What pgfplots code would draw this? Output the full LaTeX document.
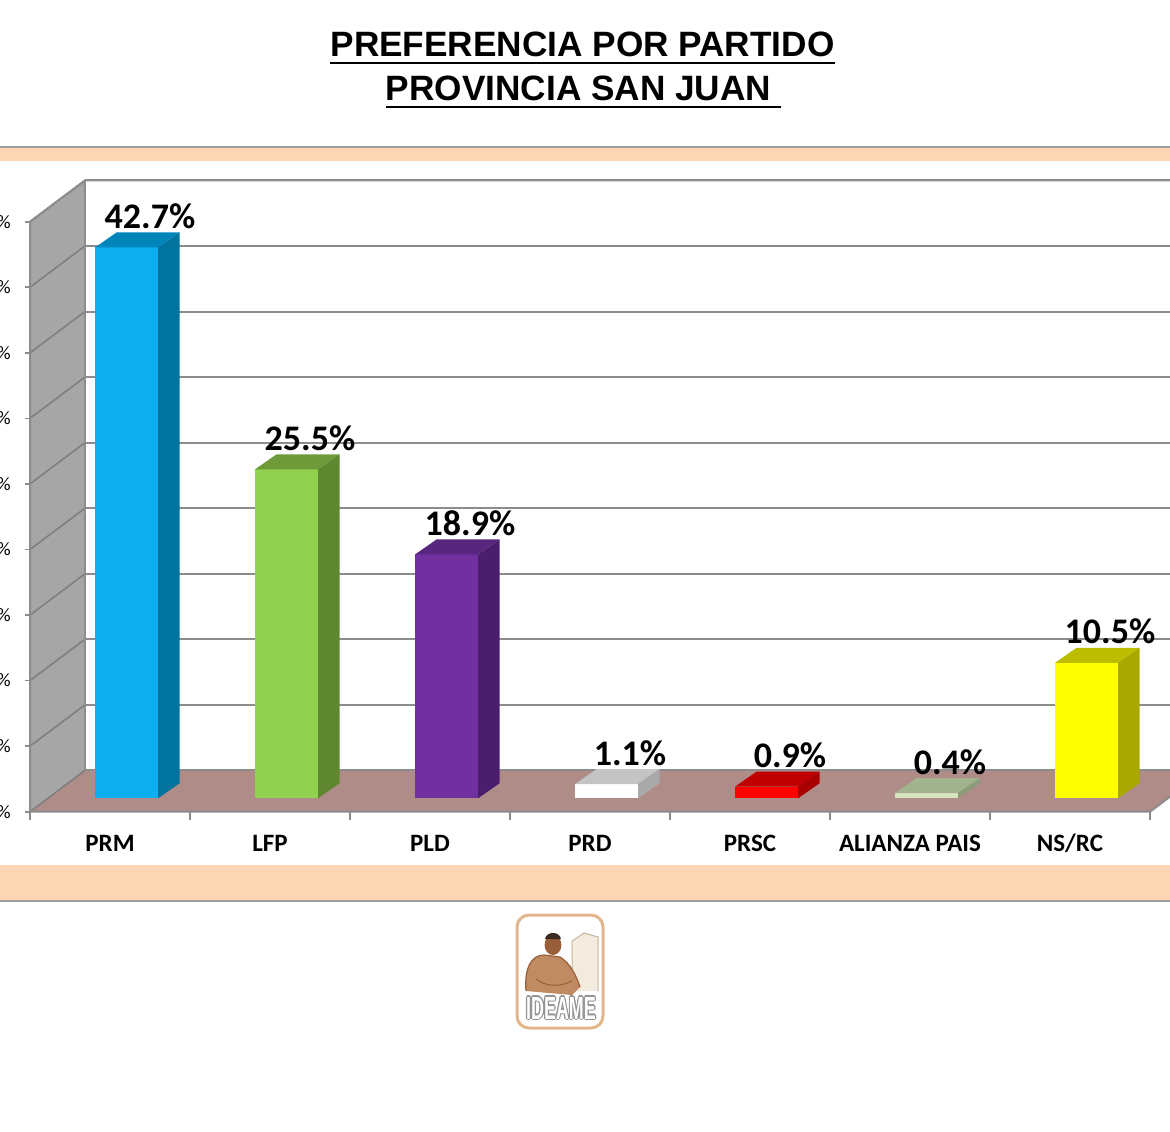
\documentclass[border=0pt]{standalone}
\usepackage{pgfplots}
\pgfplotsset{compat=1.18}
\usepackage{fontspec}
\setmainfont{Carlito}
\newfontfamily\arialfont{Liberation Sans}
\definecolor{peach}{HTML}{FCD5B4}
\definecolor{bandline}{HTML}{A0A0A0}
\definecolor{gridc}{HTML}{8C8C8C}
\definecolor{wallc}{HTML}{A6A6A6}
\definecolor{walll}{HTML}{7F7F7F}
\definecolor{floorc}{HTML}{AF8C88}
\definecolor{prmF}{HTML}{0CAEEF}\definecolor{prmT}{HTML}{0085BA}\definecolor{prmS}{HTML}{00739E}
\definecolor{lfpF}{HTML}{92D050}\definecolor{lfpT}{HTML}{6E9A3A}\definecolor{lfpS}{HTML}{5E872F}
\definecolor{pldF}{HTML}{7030A0}\definecolor{pldT}{HTML}{58267E}\definecolor{pldS}{HTML}{4A1E6C}
\definecolor{prdF}{HTML}{FFFFFF}\definecolor{prdT}{HTML}{C4C4C4}\definecolor{prdS}{HTML}{A9A9A9}
\definecolor{prscF}{HTML}{FF0000}\definecolor{prscT}{HTML}{C00000}\definecolor{prscS}{HTML}{A80000}
\definecolor{apF}{HTML}{D7E4BD}\definecolor{apT}{HTML}{A2B48D}\definecolor{apS}{HTML}{8C9C78}
\definecolor{nsF}{HTML}{FFFF00}\definecolor{nsT}{HTML}{BDBD00}\definecolor{nsS}{HTML}{A8A800}
\definecolor{logoB}{HTML}{E3B58A}
\definecolor{skinA}{HTML}{9A5E38}
\definecolor{skinB}{HTML}{C08A62}
\definecolor{hair}{HTML}{3A2A20}
\definecolor{monA}{HTML}{F3EBDD}
\definecolor{monB}{HTML}{C8B49A}
\pgfplotsset{/pgf/number format/assume math mode=true}
\newcommand{\threedbar}[5]{%
  \addplot[ybar, bar width=31.5pt, bar shift=8.25pt, fill=#3, draw=none,
    nodes near coords={\pgfmathprintnumber[fixed,fixed zerofill,precision=1]{\pgfplotspointmeta}\%},
    every node near coord/.append style={font=\bfseries\fontsize{18}{20}\selectfont, anchor=base, inner sep=0pt, xshift=20pt, yshift=9.5pt, text=black}]
    coordinates {(#1,#2)};
  \addplot[fill=#4, draw=none] coordinates {({#1-0.09375},#2) ({#1+0.3},#2) ({#1+0.4344},{#2+1.163}) ({#1+0.0406},{#2+1.163})} -- cycle;
  \addplot[fill=#5, draw=none] coordinates {({#1+0.3},0) ({#1+0.4344},1.163) ({#1+0.4344},{#2+1.163}) ({#1+0.3},#2)} -- cycle;
}
\newcommand{\logotext}{\scalebox{0.56}[1]{IDEAME}}
\begin{document}
\begin{tikzpicture}
% bands
\fill[peach] (0pt,485pt) rectangle (585pt,491.5pt);
\draw[bandline, line width=1pt] (0pt,492pt) -- (585pt,492pt);
\fill[peach] (0pt,115pt) rectangle (585pt,133pt);
\draw[bandline, line width=1pt] (0pt,115pt) -- (585pt,115pt);
% title
\node[anchor=base, inner sep=0pt, font=\arialfont\bfseries\fontsize{17.6}{20}\selectfont] (t1) at (291.25pt,537pt) {PREFERENCIA POR PARTIDO};
\draw[line width=1.3pt] ([yshift=-3pt]t1.base west) -- ([yshift=-3pt]t1.base east);
\node[anchor=base, inner sep=0pt, font=\arialfont\bfseries\fontsize{17.6}{20}\selectfont] (t2) at (291.75pt,515pt) {PROVINCIA SAN JUAN\kern0.28em};
\draw[line width=1.3pt] ([yshift=-3pt]t2.base west) -- ([yshift=-3pt]t2.base east);
% logo
\draw[logoB, line width=1.5pt, fill=white, rounded corners=6pt] (258.5pt,51.5pt) rectangle (301.5pt,108pt);
\fill[monA] (286pt,70pt) -- (286pt,95pt) -- (292pt,99pt) -- (299pt,97pt) -- (299pt,70pt) -- cycle;
\draw[monB, line width=0.5pt] (286pt,70pt) -- (286pt,95pt) -- (292pt,99pt) -- (299pt,97pt) -- (299pt,70pt);
\fill[skinB] (263pt,70pt) .. controls (262pt,82pt) and (266pt,88pt) .. (272pt,88pt) -- (280pt,87pt) .. controls (285pt,84pt) and (288pt,78pt) .. (290pt,72pt) -- (286pt,68pt) -- cycle;
\draw[skinA, line width=0.6pt] (263pt,70pt) .. controls (262pt,82pt) and (266pt,88pt) .. (272pt,88pt) -- (280pt,87pt) .. controls (285pt,84pt) and (288pt,78pt) .. (290pt,72pt);
\draw[skinA, line width=0.5pt] (268pt,76pt) .. controls (273pt,72pt) and (280pt,72pt) .. (286pt,75pt);
\fill[skinA] (276.5pt,93pt) ellipse (4.2pt and 5pt);
\fill[hair] (272.5pt,96pt) .. controls (273pt,100pt) and (280pt,100pt) .. (280.5pt,96pt) -- cycle;
\foreach \dx/\dy in {0.6/0,-0.6/0,0/0.6,0/-0.6,0.45/0.45,-0.45/0.45,0.45/-0.45,-0.45/-0.45}{
  \node[font=\arialfont\bfseries\fontsize{16}{18}\selectfont, text=gray!85, inner sep=0pt] at (280.5pt+\dx pt,61.5pt+\dy pt) {\logotext};
}
\node[font=\arialfont\bfseries\fontsize{16}{18}\selectfont, text=white, inner sep=0pt] at (280.5pt,61.5pt) {\logotext};

% walls, floor, grid
\begin{axis}[
  at={(15pt,159.65pt)}, anchor=south west,
  scale only axis, width=560pt, height=295pt,
  xmin=-0.5, xmax=6.5, ymin=0, ymax=45,
  clip=false,
  axis x line*=bottom, axis y line*=left,
  axis line style={draw=none},
  major tick length=0pt,
  xtick={0,...,6},
  xticklabels={PRM,LFP,PLD,PRD,PRSC,ALIANZA PAIS,NS/RC},
  xticklabel style={font=\bfseries\fontsize{12.5}{14}\selectfont, anchor=base, inner sep=0pt, yshift=-20pt},
  ytick={0,5,...,45},
  yticklabel={\pgfmathprintnumber{\tick}\%},
  yticklabel style={font=\fontsize{9.5}{11}\selectfont, anchor=east, inner sep=0pt, xshift=-9.5pt},
]
\addplot[draw=none] coordinates {(0,0)};
\fill[floorc] (axis cs:-0.5,0) -- (axis cs:6.5,0) -- (axis cs:6.84375,3.15) -- (axis cs:-0.15625,3.15) -- cycle;
\pgfplotsinvokeforeach{5,10,...,45}{
  \draw[gridc, line width=1pt] (axis cs:-0.15625,{#1+3.15}) -- (axis cs:7.3,{#1+3.15});
}
\draw[gridc, line width=1pt] (axis cs:-0.15625,3.15) -- (axis cs:7.3,3.15);
\fill[wallc] (axis cs:-0.5,0) -- (axis cs:-0.5,45) -- (axis cs:-0.15625,48.15) -- (axis cs:-0.15625,3.15) -- cycle;
\pgfplotsinvokeforeach{0,5,...,45}{
  \draw[walll, line width=0.8pt] (axis cs:-0.5,#1) -- (axis cs:-0.15625,{#1+3.15});
  \draw[gridc, line width=0.8pt] (axis cs:-0.5,#1) -- ++(-2.5pt,0pt);
}
\draw[gridc, line width=1pt] (axis cs:-0.5,0) -- (axis cs:-0.5,45) -- (axis cs:-0.15625,48.15) -- (axis cs:7.3,48.15);
\draw[gridc, line width=0.8pt] (axis cs:-0.15625,48.15) -- (axis cs:-0.15625,3.15);
\draw[gridc, line width=1pt] (axis cs:-0.5,0) -- (axis cs:6.5,0) -- (axis cs:6.84375,3.15);
\pgfplotsinvokeforeach{-0.5,0.5,...,6.5}{
  \draw[gridc, line width=0.8pt] (axis cs:#1,0) -- ++(0pt,-4pt);
}
\end{axis}

% bars
\begin{axis}[
  at={(15pt,166.35pt)}, anchor=south west,
  scale only axis, width=560pt, height=290.25pt,
  xmin=-0.5, xmax=6.5, ymin=0, ymax=45,
  hide axis, clip=false,
]
\threedbar{0}{42.7}{prmF}{prmT}{prmS}
\threedbar{1}{25.5}{lfpF}{lfpT}{lfpS}
\threedbar{2}{18.9}{pldF}{pldT}{pldS}
\threedbar{3}{1.1}{prdF}{prdT}{prdS}
\threedbar{4}{0.9}{prscF}{prscT}{prscS}
\threedbar{5}{0.4}{apF}{apT}{apS}
\threedbar{6}{10.5}{nsF}{nsT}{nsS}
\end{axis}
\pgfresetboundingbox
\useasboundingbox (0pt,0pt) rectangle (585pt,565.5pt);
\end{tikzpicture}
\end{document}
